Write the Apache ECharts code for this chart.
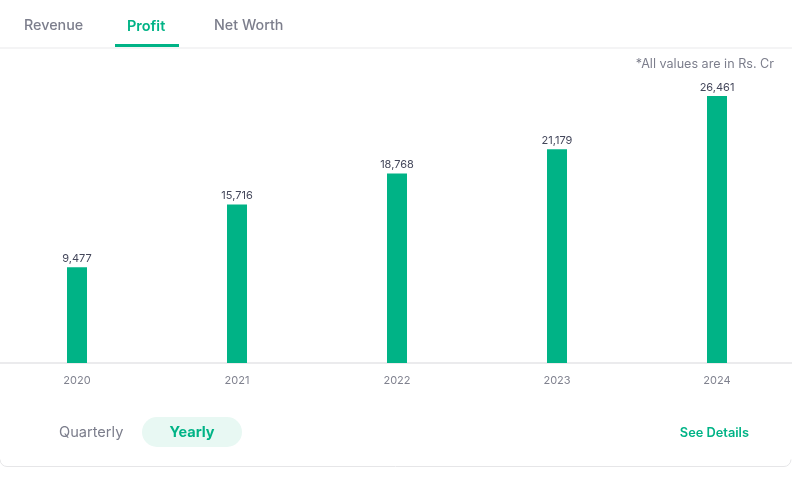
<!DOCTYPE html>
<html><head><meta charset="utf-8">
<script src="https://cdn.jsdelivr.net/npm/echarts@6/dist/echarts.min.js"></script>
<style>html,body{margin:0;padding:0;background:#fff;overflow:hidden;}#wrap{width:792px;height:483px;overflow:hidden;position:relative;}#c{position:absolute;left:-3px;top:0;width:800px;height:483px;}</style>
</head><body><div id="wrap"><div id="c"></div></div>
<script>
const categories = ['2020', '2021', '2022', '2023', '2024'];
const profitValues = [9477, 15716, 18768, 21179, 26461];
const tabLabels = ['Revenue', 'Profit', 'Net Worth'];
const noteText = '*All values are in Rs. Cr';

const green = '#00b386';
const grey = '#7c7e8c';
const font = 'Inter, "Noto Sans", sans-serif';
const dx = 3; // chart canvas is offset 3px to the left

const chart = echarts.init(document.getElementById('c'), null, {renderer: 'canvas'});
chart.setOption({
  animation: false,
  grid: {left: 0, right: 0, top: 96, bottom: 120},
  xAxis: {
    type: 'category', data: categories,
    axisLine: {lineStyle: {color: '#ebebed', width: 2}},
    axisTick: {show: false},
    axisLabel: {color: '#80828f', fontSize: 11, fontFamily: font, margin: 12}
  },
  yAxis: {type: 'value', min: 0, max: 26461, show: false, splitLine: {show: false}},
  series: [{
    type: 'bar', data: profitValues, barWidth: 20,
    itemStyle: {color: green},
    label: {show: true, position: 'top', distance: 3, color: '#44475b', fontSize: 11, fontFamily: font,
      formatter: p => p.value.toLocaleString('en-US')}
  }],
  graphic: [
    {type: 'text', left: 24 + dx, top: 19, style: {text: tabLabels[0], fill: grey, font: '500 14.3px ' + font}},
    {type: 'text', left: 127 + dx, top: 19, style: {text: tabLabels[1], fill: green, font: '600 14.5px ' + font}},
    {type: 'text', left: 214 + dx, top: 19, style: {text: tabLabels[2], fill: grey, font: '500 14.3px ' + font}},
    {type: 'rect', shape: {x: 0, y: 47.5, width: 800, height: 1}, style: {fill: '#e9e9eb'}},
    {type: 'rect', shape: {x: 115 + dx, y: 44, width: 64, height: 3}, style: {fill: green}},
    {type: 'text', right: 18 + 5, top: 58, style: {text: noteText, fill: grey, font: '12.6px ' + font}},
    {type: 'text', left: 59 + dx, top: 425, style: {text: 'Quarterly', fill: grey, font: '14.6px ' + font}},
    {type: 'rect', shape: {x: 142 + dx, y: 417, width: 100, height: 30, r: 15}, style: {fill: '#e8f8f3'}},
    {type: 'text', x: 192 + dx, y: 433, style: {text: 'Yearly', fill: green, font: 'bold 14.5px ' + font, align: 'center', verticalAlign: 'middle'}},
    {type: 'text', x: 749 + dx, y: 433, style: {text: 'See Details', fill: green, font: '600 12.8px ' + font, align: 'right', verticalAlign: 'middle'}},
    {type: 'line', shape: {x1: 10, y1: 466.5, x2: 787, y2: 466.5}, style: {stroke: '#e6e6e8', lineWidth: 1}},
    {type: 'arc', shape: {cx: 10, cy: 459.5, r: 7, startAngle: Math.PI / 2, endAngle: Math.PI}, style: {fill: 'none', stroke: '#e6e6e8', lineWidth: 1}},
    {type: 'arc', shape: {cx: 787, cy: 459.5, r: 7, startAngle: 0, endAngle: Math.PI / 2}, style: {fill: 'none', stroke: '#e6e6e8', lineWidth: 1}}
  ]
});
</script></body></html>
